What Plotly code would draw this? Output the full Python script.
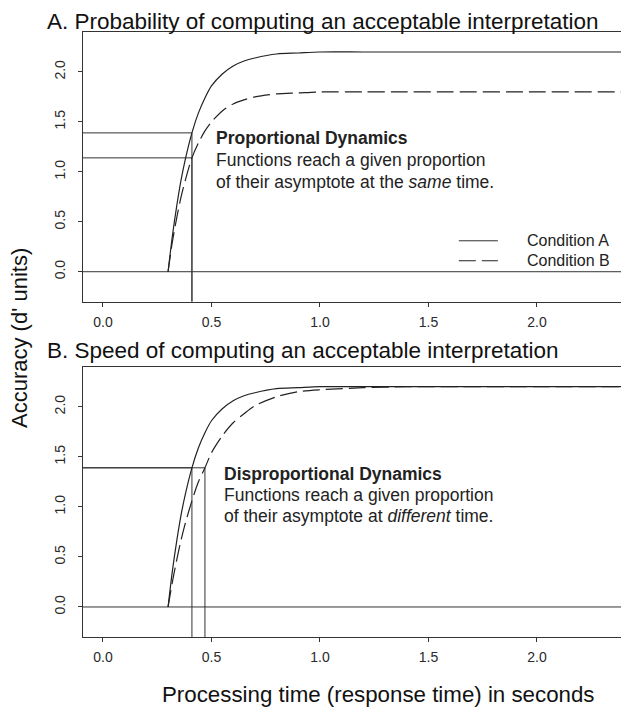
import plotly.graph_objects as go

t = [0.30, 0.32, 0.34, 0.36, 0.38, 0.41, 0.44, 0.47, 0.50, 0.55, 0.60,
     0.65, 0.70, 0.80, 0.90, 1.00, 1.20, 1.40, 1.60, 2.00, 2.392]

# panel A: proportional dynamics (d' units)
a_cond_a = [0.00, 0.36, 0.66, 0.92, 1.13, 1.39, 1.59, 1.74, 1.86, 1.98, 2.06,
            2.11, 2.14, 2.18, 2.19, 2.20, 2.20, 2.20, 2.20, 2.20, 2.20]
a_cond_b = [0.00, 0.30, 0.54, 0.75, 0.92, 1.14, 1.29, 1.41, 1.50, 1.61, 1.68,
            1.72, 1.75, 1.78, 1.79, 1.80, 1.80, 1.80, 1.80, 1.80, 1.80]

# panel B: disproportional dynamics
b_cond_a = a_cond_a
b_cond_b = [0.00, 0.25, 0.47, 0.67, 0.84, 1.06, 1.25, 1.39, 1.54, 1.71, 1.84,
            1.93, 2.01, 2.10, 2.15, 2.17, 2.19, 2.20, 2.20, 2.20, 2.20]

# reference levels (63% of asymptote) and the times they are reached
a_levels = [1.39, 1.14]
a_times = [0.41, 0.41]
b_levels = [1.39, 1.39]
b_times = [0.41, 0.47]

x_ticks = [0.0, 0.5, 1.0, 1.5, 2.0]
y_ticks = [0.0, 0.5, 1.0, 1.5, 2.0]
x_range = [-0.092, 2.392]
y_range = [-0.3, 2.4]

legend_x = [1.64, 1.82]
legend_y = [0.31, 0.11]
legend_names = ["Condition A", "Condition B"]

# page has an 8px body margin, so the figure is drawn 8px smaller
OFF = 8
W, H = 629 - OFF, 709 - OFF
ML, MR, MT, MB = 83 - OFF, 7, 32 - OFF, 72
FONT = "Liberation Sans, Arial, sans-serif"
INK = "#222"
DASH = "17px,6px"


def px(x):
    return (x - OFF - ML) / (W - ML - MR)


def py(y):
    return (H - MB - (y - OFF)) / (H - MT - MB)


fig = go.Figure()


def curve(x, y, xa, ya, dash=None):
    fig.add_trace(go.Scatter(
        x=x, y=y, xaxis=xa, yaxis=ya, mode="lines",
        line=dict(color=INK, width=1.2, dash=dash, shape="spline", smoothing=0.8),
        showlegend=False, hoverinfo="skip"))


def seg(x, y, xa, ya):
    fig.add_trace(go.Scatter(
        x=x, y=y, xaxis=xa, yaxis=ya, mode="lines",
        line=dict(color="#333", width=1),
        showlegend=False, hoverinfo="skip"))


for xa, ya, ca, cb, times, levels in [
        ("x", "y", a_cond_a, a_cond_b, a_times, a_levels),
        ("x2", "y2", b_cond_a, b_cond_b, b_times, b_levels)]:
    # zero line
    seg(x_range, [0, 0], xa, ya)
    for tm, lv in zip(times, levels):
        seg([x_range[0], tm], [lv, lv], xa, ya)
        seg([tm, tm], [y_range[0], lv], xa, ya)
    curve(t, ca, xa, ya)
    curve(t, cb, xa, ya, dash=DASH)

# legend in panel A
seg(legend_x, [legend_y[0]] * 2, "x", "y")
fig.add_trace(go.Scatter(
    x=legend_x, y=[legend_y[1]] * 2, xaxis="x", yaxis="y", mode="lines",
    line=dict(color=INK, width=1.2, dash=DASH), showlegend=False, hoverinfo="skip"))

annotations = []
for name, ly in zip(legend_names, legend_y):
    annotations.append(dict(x=1.947, y=ly, xref="x", yref="y", text=name,
                            showarrow=False, xanchor="left", yanchor="middle",
                            font=dict(size=16, color=INK)))

panel_text = [
    ("x", "y", 0.51, [1.337, 1.12, 0.903],
     ["<b>Proportional Dynamics</b>", "Functions reach a given proportion",
      "of their asymptote at the <i>same</i> time."]),
    ("x2", "y2", 0.547, [1.327, 1.12, 0.91],
     ["<b>Disproportional Dynamics</b>", "Functions reach a given proportion",
      "of their asymptote at <i>different</i> time."]),
]
for xr, yr, x0, ys, lines in panel_text:
    for yy, txt in zip(ys, lines):
        annotations.append(dict(x=x0, y=yy, xref=xr, yref=yr, text=txt,
                                showarrow=False, xanchor="left", yanchor="middle",
                                font=dict(size=17.5, color=INK)))

titles = [("A. Probability of computing an acceptable interpretation", 21),
          ("B. Speed of computing an acceptable interpretation", 350)]
for txt, yc in titles:
    annotations.append(dict(x=px(45), y=py(yc), xref="paper", yref="paper", text=txt,
                            showarrow=False, xanchor="left", yanchor="middle",
                            font=dict(size=22.5, color="#111")))

annotations.append(dict(x=px(378), y=py(694), xref="paper", yref="paper",
                        text="Processing time (response time) in seconds",
                        showarrow=False, xanchor="center", yanchor="middle",
                        font=dict(size=22.3, color="#111")))
annotations.append(dict(x=px(19), y=py(338), xref="paper", yref="paper",
                        text="Accuracy (d' units)", textangle=-90,
                        showarrow=False, xanchor="center", yanchor="middle",
                        font=dict(size=22, color="#111")))


def xaxis(anchor):
    return dict(range=x_range, tickvals=x_ticks, ticktext=[f"{v:.1f}" for v in x_ticks],
                anchor=anchor, showgrid=False, zeroline=False, showline=True,
                mirror=True, linecolor="#333", linewidth=1, ticks="outside",
                ticklen=4, tickcolor="#333", ticklabelstandoff=3,
                tickfont=dict(size=14, color="#2a2a2a"))


def yaxis(anchor, domain):
    return dict(range=y_range, tickvals=y_ticks, ticktext=[f"{v:.1f}" for v in y_ticks],
                anchor=anchor, domain=domain, showgrid=False, zeroline=False,
                showline=True, mirror=True, linecolor="#333", linewidth=1,
                ticks="outside", ticklen=4, tickcolor="#333", tickangle=-90,
                ticklabelstandoff=7, tickfont=dict(size=14, color="#2a2a2a"))


fig.update_layout(
    width=W, height=H,
    margin=dict(l=ML, r=MR, t=MT, b=MB, autoexpand=False),
    paper_bgcolor="white", plot_bgcolor="white",
    font=dict(family=FONT, color=INK),
    xaxis=xaxis("y"),
    yaxis=yaxis("x", [py(301.7), 1]),
    xaxis2=xaxis("y2"),
    yaxis2=yaxis("x2", [0, py(366.7)]),
    annotations=annotations,
    showlegend=False,
)

fig.write_html("out.html")
